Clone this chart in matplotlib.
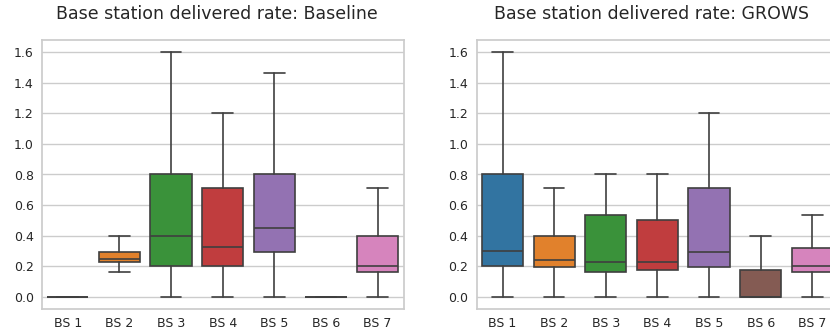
import matplotlib
matplotlib.use("Agg")
import matplotlib.pyplot as plt
import seaborn as sns

sns.set_theme(style="whitegrid")
plt.rcParams['font.family'] = ['DejaVu Sans']

stations = ["BS 1", "BS 2", "BS 3", "BS 4", "BS 5", "BS 6", "BS 7"]

# five-number summaries: whisker low, q1, median, q3, whisker high
base_lo = [0.0, 0.16, 0.0, 0.0, 0.0, 0.0, 0.0]
base_q1 = [0.0, 0.225, 0.2, 0.2, 0.295, 0.0, 0.16]
base_med = [0.0, 0.25, 0.4, 0.325, 0.45, 0.0, 0.2]
base_q3 = [0.0, 0.295, 0.8, 0.71, 0.8, 0.0, 0.4]
base_hi = [0.0, 0.40, 1.6, 1.2, 1.467, 0.0, 0.71]

grows_lo = [0.0, 0.0, 0.0, 0.0, 0.0, 0.0, 0.0]
grows_q1 = [0.2, 0.195, 0.16, 0.178, 0.195, 0.0, 0.16]
grows_med = [0.3, 0.24, 0.23, 0.23, 0.295, 0.0, 0.2]
grows_q3 = [0.8, 0.4, 0.533, 0.5, 0.71, 0.178, 0.32]
grows_hi = [1.6, 0.71, 0.8, 0.8, 1.2, 0.4, 0.533]

colors = sns.color_palette("tab10", 7, desat=0.75)
line_col = "#3f3f3f"


def draw(ax, lo, q1, med, q3, hi, title):
    stats = [dict(label=s, whislo=a, q1=b, med=c, q3=d, whishi=e, fliers=[])
             for s, a, b, c, d, e in zip(stations, lo, q1, med, q3, hi)]
    bp = ax.bxp(stats, positions=range(len(stations)), widths=0.8,
                patch_artist=True, showfliers=False,
                boxprops=dict(edgecolor=line_col, linewidth=1.2),
                medianprops=dict(color=line_col, linewidth=1.2),
                whiskerprops=dict(color=line_col, linewidth=1.2),
                capprops=dict(color=line_col, linewidth=1.2))
    for patch, c in zip(bp["boxes"], colors):
        patch.set_facecolor(c)
    ax.set_xlim(-0.5, len(stations) - 0.5)
    ax.set_ylim(-0.08, 1.68)
    ax.set_yticks([0.0, 0.2, 0.4, 0.6, 0.8, 1.0, 1.2, 1.4, 1.6])
    ax.set_title(title, fontsize=12.5, pad=15, x=0.484)
    ax.tick_params(labelsize=9, length=0, pad=6)
    ax.grid(axis="x", visible=False)


fig = plt.figure(figsize=(8.3, 3.33), dpi=100)
ax1 = fig.add_axes([42 / 830, 24 / 333, 361.5 / 830, 269 / 333])
ax2 = fig.add_axes([476.7 / 830, 24 / 333, 361.5 / 830, 269 / 333])

draw(ax1, base_lo, base_q1, base_med, base_q3, base_hi,
     "Base station delivered rate: Baseline")
draw(ax2, grows_lo, grows_q1, grows_med, grows_q3, grows_hi,
     "Base station delivered rate: GROWS")

fig.savefig("out.png", dpi=100)
